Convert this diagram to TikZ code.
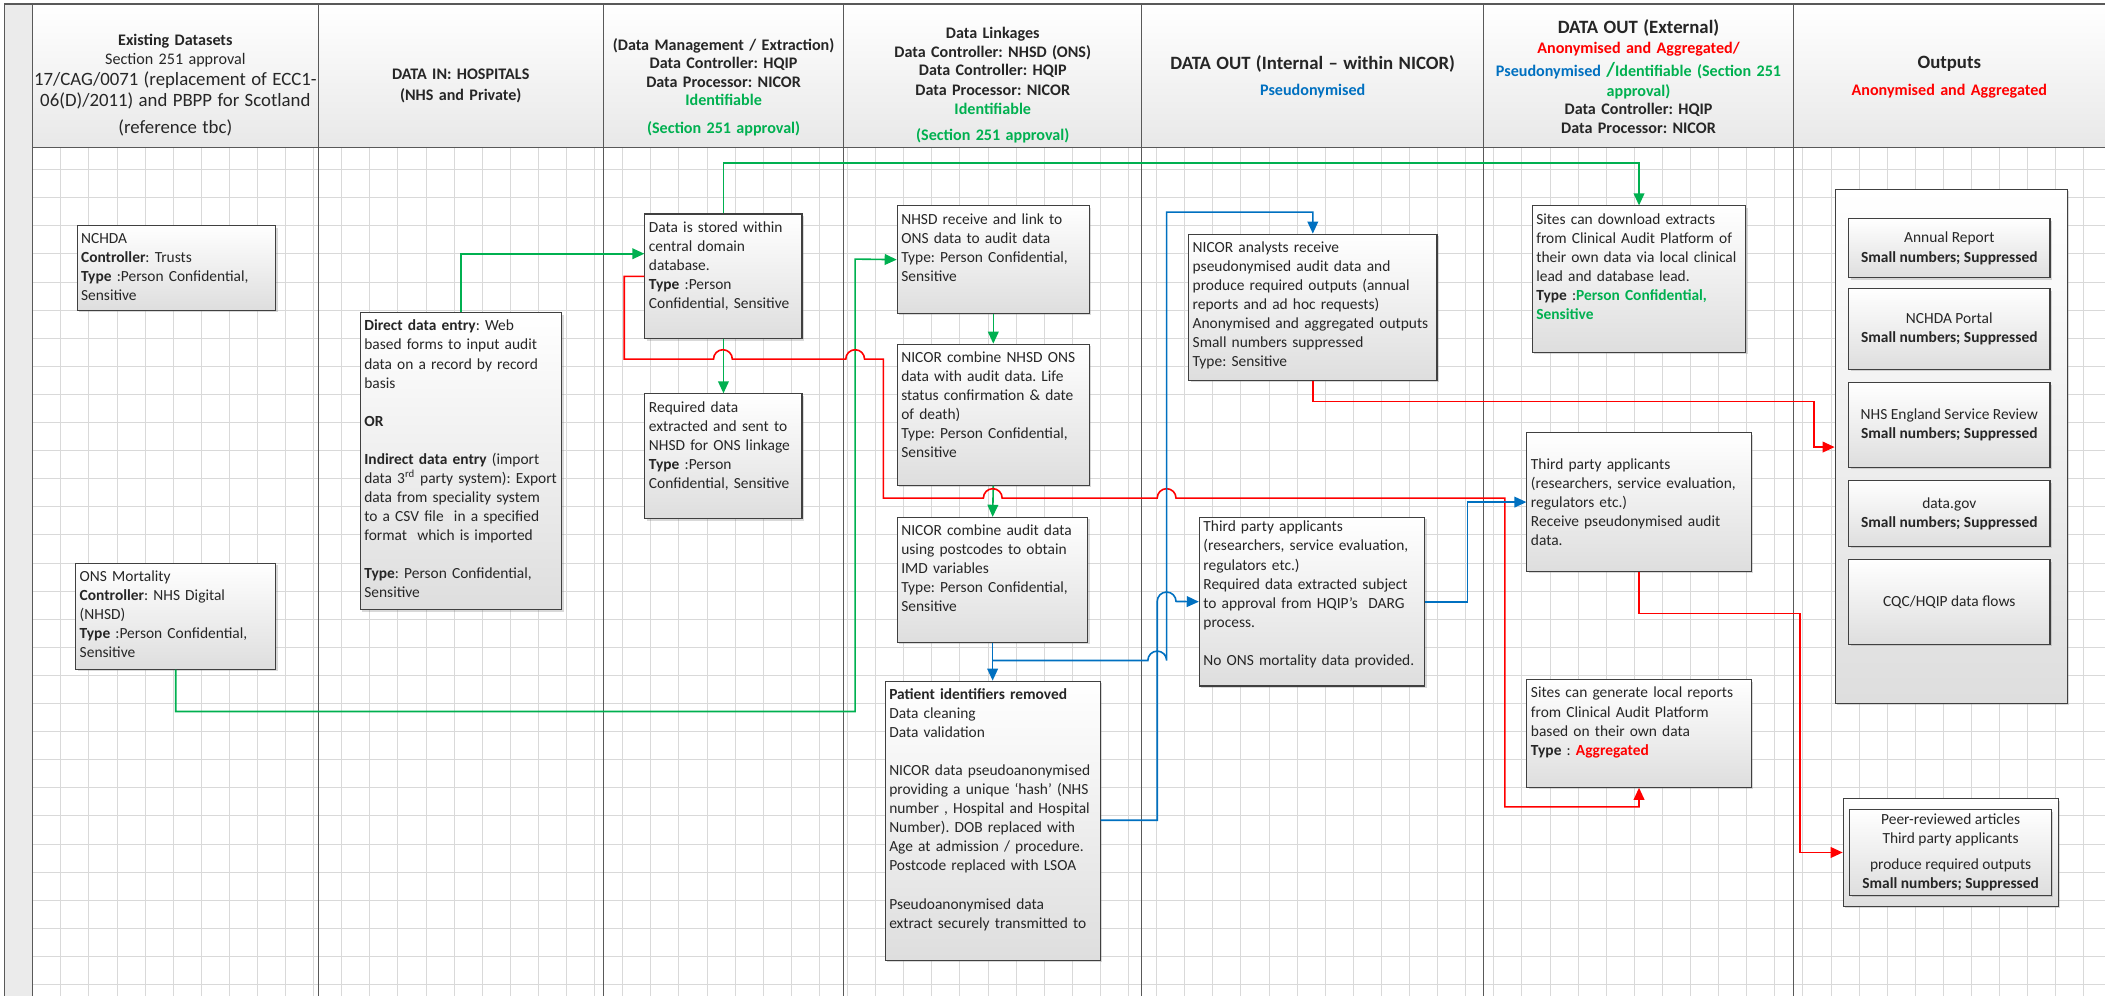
\documentclass[tikz,border=0pt]{standalone}
\usepackage{fontspec}
\setmainfont{Carlito}
\usetikzlibrary{arrows.meta,shadows}

\definecolor{nhsgreen}{HTML}{00B050}
\definecolor{nhsred}{HTML}{FF0000}
\definecolor{nhsblue}{HTML}{0070C0}

\newcommand{\boxfont}{\fontsize{11.5}{14.2}\selectfont}
\newcommand{\headsmall}{\fontsize{12}{13.8}\selectfont}
\newcommand{\headbig}{\fontsize{14}{15.5}\selectfont}
\hyphenpenalty=10000
\exhyphenpenalty=10000

\begin{document}
\frenchspacing
\begin{tikzpicture}[x=1pt,y=-1pt]
    \tikzstyle{flow}=[draw=black!75, line width=0.8pt, top color=white, bottom color=black!13,
        drop shadow={shadow xshift=1.5pt, shadow yshift=-1.5pt, opacity=0.3},
        anchor=north west, align=left, font=\boxfont, text=black!85,
        inner xsep=3pt, inner ysep=4.5pt, text height=9pt]
    \tikzstyle{outbox}=[draw=black!75, line width=0.8pt, top color=white, bottom color=black!13,
        drop shadow={shadow xshift=1.5pt, shadow yshift=-1.5pt, opacity=0.3},
        align=center, font=\boxfont, text=black!85, minimum width=150pt]
    \tikzstyle{head}=[anchor=base, align=center, inner sep=0pt, font=\headsmall, text=black!85]
    \tikzstyle{gridline}=[black!15, line width=0.6pt]
    \tikzstyle{colline}=[black!65, line width=0.9pt]
    \tikzstyle{link}=[line width=1.2pt, -{Triangle[length=9pt,width=8pt]}]
    \tikzstyle{gline}=[link, nhsgreen]
    \tikzstyle{rline}=[link, nhsred]
    \tikzstyle{bline}=[link, nhsblue]

    \useasboundingbox (0,0) rectangle (1568,742);

    \fill[black!8] (3.3,3) rectangle (24.3,742);
    \shade[top color=white, bottom color=black!9] (24.3,3) rectangle (1568,110);
    \foreach \i in {0,...,73}
        \draw[gridline] (24.3+20.93*\i,110) -- (24.3+20.93*\i,742);
    \foreach \j in {0,...,29}
        \draw[gridline] (24.3,126.3+20.93*\j) -- (1568,126.3+20.93*\j);
    \draw[colline] (3.3,3) -- (1568,3);
    \draw[colline] (24.3,110) -- (1568,110);
    \foreach \x in {3.3,24.3,237,449.5,628.5,850.5,1105,1336}
        \draw[colline] (\x,3) -- (\x,742);

    \node[head, text width=220pt] (colsrc) at (130.6,33.8) {\textbf{Existing Datasets}\par\vspace{0.4pt}Section 251 approval\par{\headbig 17/CAG/0071 (replacement of ECC1-\par 06(D)/2011) and PBPP for Scotland\par}\vspace{5pt}{\headbig (reference tbc)\par}};
    \node[head, text width=212pt] (colin) at (343.2,59) {\bfseries DATA IN: HOSPITALS\par\vspace{2pt}(NHS and Private)};
    \node[head, text width=179pt] (colman) at (539,37.5) {\bfseries (Data Management / Extraction)\par Data Controller: HQIP\par Data Processor: NICOR\par{\color{nhsgreen}Identifiable}\par\vspace{6.7pt}{\color{nhsgreen}(Section 251 approval)}};
    \node[head, text width=222pt] (collink) at (739.5,29) {\bfseries Data Linkages\par Data Controller: NHSD (ONS)\par Data Controller: HQIP\par\vspace{1pt}Data Processor: NICOR\par{\color{nhsgreen}Identifiable}\par\vspace{6pt}{\color{nhsgreen}(Section 251 approval)}};
    \node[head, text width=254pt] (colint) at (977.8,51.7) {\bfseries{\headbig DATA OUT (Internal – within NICOR)\par}\vspace{5.7pt}{\color{nhsblue}Pseudonymised}};
    \node[head, text width=231pt] (colext) at (1220.5,24.7) {\bfseries{\headbig DATA OUT (External)\par}\vspace{1pt}{\color{nhsred}Anonymised and Aggregated/}\par\vspace{3.7pt}{\color{nhsblue}Pseudonymised }{\color{nhsgreen}{\fontsize{15}{15}\selectfont/}Identifiable (Section 251}\par\vspace{0.8pt}{\color{nhsgreen}approval)}\par Data Controller: HQIP\par Data Processor: NICOR};
    \node[head, text width=232pt] (colout) at (1452,50.7) {\bfseries{\headbig Outputs\par}\vspace{6.5pt}{\color{nhsred}Anonymised and Aggregated}};

    \node[flow, text width=142pt, text depth=45pt] (nchda) at (57,167.6) {NCHDA\\\textbf{Controller}: Trusts\\\textbf{Type} :Person Confidential,\\Sensitive};
    \node[flow, text width=143pt, text depth=61pt] (ons) at (56,419) {ONS Mortality\\\textbf{Controller}: NHS Digital\\(NHSD)\\\textbf{Type} :Person Confidential,\\Sensitive};
    \node[flow, text width=144pt, text depth=203pt] (entry) at (268,232.6) {\textbf{Direct data entry}: Web\\based forms to input audit\\data on a record by record\\basis\\[14.2pt]\textbf{OR}\\[14.2pt]\textbf{Indirect data entry} (import\\data 3\textsuperscript{rd} party system): Export\\data from speciality system\\to a CSV file\ \ in a specified\\format\ \ which is imported\\[14.2pt]\textbf{Type}: Person Confidential,\\Sensitive};
    \node[flow, text width=111pt, text depth=75pt] (stored) at (480,159) {Data is stored within\\central domain\\database.\\\textbf{Type} :Person\\Confidential, Sensitive};
    \node[flow, text width=111pt, text depth=75pt] (required) at (480,293) {Required data\\extracted and sent to\\NHSD for ONS linkage\\\textbf{Type} :Person\\Confidential, Sensitive};
    \node[flow, text width=137pt, text depth=62pt] (nhsdrx) at (668,153) {NHSD receive and link to\\ONS data to audit data\\Type: Person Confidential,\\Sensitive};
    \node[flow, text width=137pt, text depth=87pt] (combine) at (668,256) {NICOR combine NHSD ONS\\data with audit data. Life\\status confirmation \& date\\of death)\\Type: Person Confidential,\\Sensitive};
    \node[flow, text width=136pt, text depth=75pt] (imd) at (668,385) {NICOR combine audit data\\using postcodes to obtain\\IMD variables\\Type: Person Confidential,\\Sensitive};
    \node[flow, text width=154pt, text depth=190pt] (pseudo) at (659,507) {\textbf{Patient identifiers removed}\\Data cleaning\\Data validation\\[14.2pt]NICOR data pseudoanonymised\\providing a unique ‘hash’ (NHS\\number , Hospital and Hospital\\Number). DOB replaced with\\Age at admission / procedure.\\Postcode replaced with LSOA\\[14.2pt]Pseudoanonymised data\\extract securely transmitted to};
    \node[flow, text width=179pt, text depth=91pt] (analysts) at (885,174) {NICOR analysts receive\\pseudonymised audit data and\\produce required outputs (annual\\reports and ad hoc requests)\\Anonymised and aggregated outputs\\Small numbers suppressed\\Type: Sensitive};
    \node[flow, text width=162pt, text depth=113pt, inner ysep=1.8pt] (thirdint) at (893,385) {Third party applicants\\(researchers, service evaluation,\\regulators etc.)\\Required data extracted subject\\to approval from HQIP’s\ \ DARG\\process.\\[14.2pt]No ONS mortality data provided.};
    \node[flow, text width=153pt, text depth=91pt] (download) at (1141,153) {Sites can download extracts\\from Clinical Audit Platform of\\their own data via local clinical\\lead and database lead.\\\textbf{Type} :{\color{nhsgreen}\textbf{Person Confidential,}}\\{\color{nhsgreen}\textbf{Sensitive}}};
    \node[flow, text width=161pt, text height=, text depth=, minimum height=103pt] (thirdext) at (1137,322) {Third party applicants\\(researchers, service evaluation,\\regulators etc.)\\Receive pseudonymised audit\\data.};
    \node[flow, text width=161pt, text depth=62pt] (generate) at (1137,506) {Sites can generate local reports\\from Clinical Audit Platform\\based on their own data\\\textbf{Type} : {\color{nhsred}\textbf{Aggregated}}};

    \node[outbox, minimum width=173pt, minimum height=383pt] (outputs) at (1453.5,332.5) {};
    \node[outbox, minimum height=44pt] (annual) at (1452,185) {Annual Report\\\textbf{Small numbers; Suppressed}};
    \node[outbox, minimum height=60pt] (portal) at (1452,245) {NCHDA Portal\\\textbf{Small numbers; Suppressed}};
    \node[outbox, minimum height=63pt] (england) at (1452,316.5) {NHS England Service Review\\\textbf{Small numbers; Suppressed}};
    \node[outbox, minimum height=49pt] (datagov) at (1452,382.5) {data.gov\\\textbf{Small numbers; Suppressed}};
    \node[outbox, minimum height=63pt] (cqc) at (1452,448.5) {CQC/HQIP data flows};
    \node[outbox, minimum width=160pt, minimum height=80pt] (peerout) at (1453,635) {};
    \node[outbox, minimum height=64pt] (peerin) at (1453,635) {Peer-reviewed articles\\Third party applicants\\[5pt]produce required outputs\\\textbf{Small numbers; Suppressed}};

    \draw[gline] (entry.north) |- (stored.west |- 0,189);
    \draw[gline] (stored.north) -- (stored.north |- 0,121.5) -| (download.north);
    \draw[gline] (stored.south) -- (required.north);
    \draw[gline] (ons.south) -- (ons.south |- 0,530) -| (637,193) -- (nhsdrx.west);
    \draw[gline] (nhsdrx.south) -- (combine.north);
    \draw[gline] (combine.south) -- (imd.north);

    \draw[rline] (stored.west) -| (465,267.5) -- (531.5,267.5) arc[start angle=180,end angle=360,radius=7]
        -- (630,267.5) arc[start angle=180,end angle=360,radius=7] -| (658,371)
        -- (732.5,371) arc[start angle=180,end angle=360,radius=7]
        -- (862,371) arc[start angle=180,end angle=360,radius=7] -| (1121,601) -| (generate.south);
    \draw[rline] (analysts.south) -- (analysts.south |- 0,299) -| (1351,333) -- (outputs.west |- 0,333);
    \draw[rline] (thirdext.south) -- (thirdext.south |- 0,457) -| (1341,635) -- (peerout.west);

    \draw[bline] (pseudo.east |- 0,611) -| (862,448) arc[start angle=180,end angle=360,radius=7] -- (thirdint.west);
    \draw[bline] (imd.south) -- (pseudo.north);
    \draw[bline] (imd.south |- 0,492) -- (855,492) arc[start angle=180,end angle=360,radius=7] -- (869,158) -| (analysts.north);
    \draw[bline] (thirdint.east) -| (1093,374) -- (thirdext.west |- 0,374);
\end{tikzpicture}
\end{document}
